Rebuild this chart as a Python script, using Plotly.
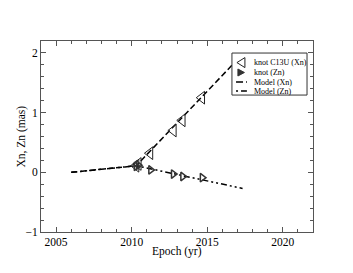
import plotly.graph_objects as go

# Data
xn_epoch = [2010.29, 2010.44, 2011.21, 2012.76, 2013.35, 2014.64]
xn_val = [0.11, 0.14, 0.32, 0.70, 0.87, 1.25]
zn_epoch = [2010.3, 2010.44, 2011.26, 2012.76, 2013.38, 2014.67]
zn_val = [0.10, 0.12, 0.04, -0.03, -0.07, -0.09]
model_xn_epoch = [2006.0, 2010.3, 2017.34]
model_xn_val = [0.0, 0.11, 1.98]
model_zn_epoch = [2006.0, 2010.3, 2017.34]
model_zn_val = [0.0, 0.11, -0.27]
legend_labels = ["knot C13U (Xn)", "knot (Zn)", "Model (Xn)", "Model (Zn)"]
x_title = "Epoch (yr)"
y_title = "Xn, Zn (mas)"

font = "Liberation Serif, Times New Roman, serif"
dash_xn = "6px,3px"
dash_zn = "6px,3px,2px,3px,2px,3px"
axcol = "#555"

fig = go.Figure()
fig.add_trace(go.Scatter(x=model_xn_epoch, y=model_xn_val, mode="lines",
                         line=dict(color="black", width=1.5, dash=dash_xn)))
fig.add_trace(go.Scatter(x=model_zn_epoch, y=model_zn_val, mode="lines",
                         line=dict(color="black", width=1.5, dash=dash_zn)))
fig.add_trace(go.Scatter(x=xn_epoch, y=xn_val, mode="markers",
                         marker=dict(symbol="triangle-left-open", size=11, color="#222", line=dict(width=1))))
fig.add_trace(go.Scatter(x=zn_epoch, y=zn_val, mode="markers",
                         marker=dict(symbol="triangle-right-open", size=7.5, color="#333", line=dict(width=1.5))))

# Manual legend (paper coords of plot area)
lx0, lx1, ly0, ly1 = 0.702, 0.978, 0.717, 0.937
rows = [0.887, 0.835, 0.785, 0.738]
sym_x = 0.735
shapes = [dict(type="rect", xref="paper", yref="paper", x0=lx0, x1=lx1, y0=ly0, y1=ly1,
               fillcolor="white", line=dict(color="#333", width=1), layer="above")]
shapes.append(dict(type="line", xref="paper", yref="paper", x0=0.717, x1=0.757, y0=rows[2], y1=rows[2],
                   line=dict(color="black", width=1.5, dash="7px,3px,2px,3px"), layer="above"))
shapes.append(dict(type="line", xref="paper", yref="paper", x0=0.717, x1=0.757, y0=rows[3], y1=rows[3],
                   line=dict(color="black", width=1.5, dash="2px,3px,7px,3px"), layer="above"))
shapes.append(dict(type="path", xref="paper", yref="paper", xsizemode="pixel", ysizemode="pixel",
                   xanchor=sym_x, yanchor=rows[0], path="M 4,-5 L 4,5 L -4,0 Z",
                   line=dict(color="#222", width=1), fillcolor="rgba(0,0,0,0)", layer="above"))
shapes.append(dict(type="path", xref="paper", yref="paper", xsizemode="pixel", ysizemode="pixel",
                   xanchor=sym_x, yanchor=rows[1], path="M -3,-3.5 L -3,3.5 L 3.5,0 Z",
                   line=dict(color="#333", width=1), fillcolor="#333", layer="above"))
annotations = [dict(xref="paper", yref="paper", x=0.776, y=r, text=t, showarrow=False,
                    xanchor="left", yanchor="middle", font=dict(size=8, family=font, color="black"))
               for r, t in zip(rows, legend_labels)]
annotations.append(dict(xref="paper", yref="paper", x=0.5, y=-0.10, text=x_title, showarrow=False,
                        xanchor="center", yanchor="middle", font=dict(size=11.5, family=font, color="black")))
annotations.append(dict(xref="paper", yref="paper", x=-0.07, y=0.5, text=y_title, showarrow=False,
                        textangle=-90, xanchor="center", yanchor="middle",
                        font=dict(size=11.5, family=font, color="black")))

fig.update_layout(
    width=353, height=273,
    margin=dict(l=41, r=40, t=41, b=41),
    paper_bgcolor="white", plot_bgcolor="white",
    font=dict(family=font, size=11, color="black"),
    showlegend=False,
    shapes=shapes, annotations=annotations,
    xaxis=dict(range=[2004, 2022], tickvals=[2005, 2010, 2015, 2020], automargin=False,
               ticks="inside", ticklen=5, tickcolor=axcol, showline=True, linecolor=axcol,
               linewidth=1, mirror="allticks", showgrid=False, zeroline=False,
               ticklabelstandoff=-1,
               minor=dict(ticks="inside", dtick=1, tick0=2005, ticklen=3, tickcolor=axcol),
               tickfont=dict(size=11.5)),
    yaxis=dict(range=[-1, 2.2], tickvals=[-1, 0, 1, 2], automargin=False,
               ticks="inside", ticklen=5, tickcolor=axcol, showline=True, linecolor=axcol,
               linewidth=1, mirror="allticks", showgrid=False, zeroline=False,
               minor=dict(ticks="inside", dtick=0.2, tick0=0, ticklen=3, tickcolor=axcol),
               tickfont=dict(size=11.5)),
)
fig.write_html("out.html", config={"displayModeBar": False})
with open("out.html", encoding="utf-8") as f:
    html = f.read()
html = html.replace("<body>", '<body style="margin:0">', 1)
with open("out.html", "w", encoding="utf-8") as f:
    f.write(html)
